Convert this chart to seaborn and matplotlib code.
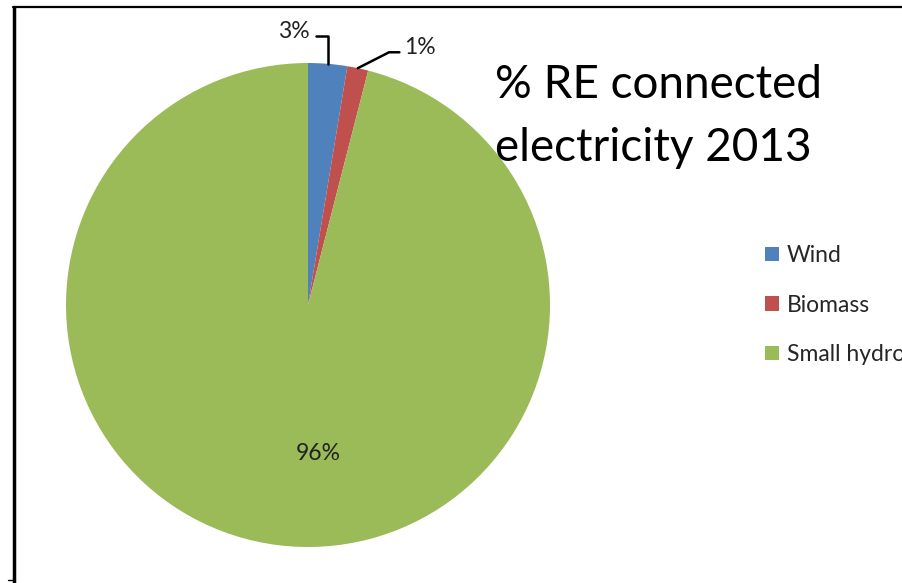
import numpy as np
import matplotlib
matplotlib.use("Agg")
import matplotlib.pyplot as plt
from matplotlib.lines import Line2D
import seaborn as sns

# data
categories = ["Wind", "Biomass", "Small hydro"]
shares = [2.6, 1.4, 96.0]
colors = ["#4F81BD", "#C0504D", "#9BBB59"]
title_lines = ["% RE connected", "electricity 2013"]

sns.set_theme(style="white")
plt.rcParams["font.family"] = ["Lato", "DejaVu Sans"]

W, H = 903, 583
fig = plt.figure(figsize=(W / 100, H / 100), dpi=100)
fig.patch.set_facecolor("white")

# pie centre (308, 305) px, radius 242 px
cx, cy, r = 308, 305, 242
ax = fig.add_axes([(cx - r) / W, (H - cy - r) / H, 2 * r / W, 2 * r / H])

wedges, _ = ax.pie(shares, colors=colors, startangle=90, counterclock=False,
                   radius=1.0, wedgeprops=dict(linewidth=0))
ax.set_xlim(-1, 1)
ax.set_ylim(-1, 1)
ax.set_aspect("equal")
ax.axis("off")

labels = [f"{round(v):.0f}%" for v in shares]
lab_size = 16.5
lw_lead = 1.8
# wind label: left, line goes right then down
w0 = wedges[0]
a0 = np.deg2rad((w0.theta1 + w0.theta2) / 2)
ax.annotate(labels[0], xy=(np.cos(a0), np.sin(a0)), xytext=(0.008, 1.132),
            ha="right", va="center", fontsize=lab_size, color="#222222",
            arrowprops=dict(arrowstyle="-", color="black", lw=lw_lead,
                            shrinkA=2, shrinkB=0, relpos=(1, 0.25),
                            connectionstyle="angle,angleA=0,angleB=90,rad=0"),
            annotation_clip=False)
# biomass label: right, line goes left then diagonal down
w1 = wedges[1]
a1 = np.deg2rad((w1.theta1 + w1.theta2) / 2)
ax.annotate(labels[1], xy=(np.cos(a1), np.sin(a1)), xytext=(0.397, 1.066),
            ha="left", va="center", fontsize=lab_size, color="#222222",
            arrowprops=dict(arrowstyle="-", color="black", lw=lw_lead,
                            shrinkA=1, shrinkB=0, relpos=(0, 0.25),
                            connectionstyle="angle,angleA=0,angleB=27,rad=0"),
            annotation_clip=False)
# hydro label inside
w2 = wedges[2]
a2 = np.deg2rad((w2.theta1 + w2.theta2) / 2)
ax.text(0.61 * np.cos(a2) + 0.12, 0.61 * np.sin(a2) - 0.01, labels[2],
        ha="center", va="center", fontsize=lab_size, color="#222222")

# title text
fig.text(495 / W, 1 - 85 / H, title_lines[0], fontsize=33, color="black",
         ha="left", va="center")
fig.text(495 / W, 1 - 148 / H, title_lines[1], fontsize=33, color="black",
         ha="left", va="center")

# legend (last entry runs off the right edge, as in the original)
fig.legend(wedges, categories, loc="upper left",
           bbox_to_anchor=(765 / W, 1 - 245 / H), frameon=False,
           fontsize=lab_size, labelspacing=1.25, handlelength=0.6,
           handleheight=0.6, handletextpad=0.35, borderpad=0,
           borderaxespad=0)

# frame lines
fig.add_artist(Line2D([14 / W, 14 / W], [0, 1 - 7 / H], color="black", lw=2.5,
                      transform=fig.transFigure))
fig.add_artist(Line2D([13 / W, 1], [1 - 7 / H, 1 - 7 / H], color="black", lw=1.6,
                      transform=fig.transFigure))
fig.add_artist(Line2D([8 / W, 15 / W], [3 / H, 3 / H], color="black", lw=1,
                      transform=fig.transFigure))

fig.savefig("out.png", dpi=100)
